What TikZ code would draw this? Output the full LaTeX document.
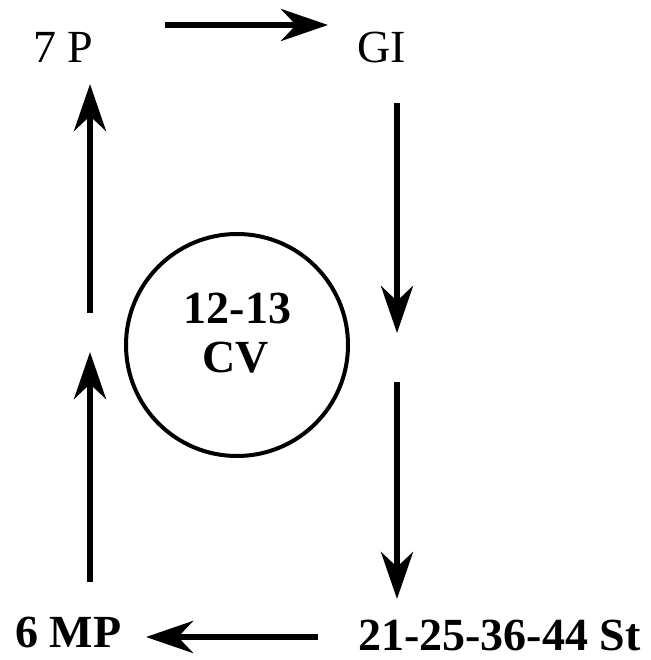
\documentclass[tikz,border=0pt]{standalone}
\usepackage{fontspec}
\setmainfont{Liberation Serif}
\usetikzlibrary{arrows.meta}
\begin{document}
\begin{tikzpicture}[x=1pt,y=-1pt,
  lbl/.style={inner sep=0pt,font=\fontsize{46}{49}\selectfont},
  blbl/.style={inner sep=0pt,font=\fontsize{46}{49}\selectfont\bfseries},
  flow/.style={line width=6pt,-{Stealth[length=47pt,width=32pt,inset=15pt]}}]
\useasboundingbox (0,0) rectangle (650,660);
% labels
\node[lbl,anchor=base west] (p7) at (33,63) {7 P};
\node[lbl,anchor=base west] (gi) at (357,63) {GI};
\node[blbl,anchor=base west] (mp6) at (15,647) {6 MP};
\node[blbl,anchor=base west] (st) at (358,650) {21-25-36-44 St};
% circle
\node[draw,circle,line width=4pt,minimum size=222pt,inner sep=0pt] (cv) at (237,345) {};
\node[blbl,anchor=base] (cvnum) at (237.5,323) {12-13};
\node[blbl,anchor=base] (cvname) at (236,372) {CV};
% arrow end points
\coordinate (a1s) at (165,25);  \coordinate (a1e) at (328,25);
\coordinate (a2s) at (397,103); \coordinate (a2e) at (397,333);
\coordinate (a3s) at (397,382); \coordinate (a3e) at (397,599);
\coordinate (a4s) at (318,637); \coordinate (a4e) at (146,637);
\coordinate (a5s) at (90,582);  \coordinate (a5e) at (90,352);
\coordinate (a6s) at (90,313);  \coordinate (a6e) at (90,84);
\draw[flow] (a1s) -- (a1e);
\draw[flow] (a2s) -- (a2e);
\draw[flow] (a3s) -- (a3e);
\draw[flow] (a4s) -- (a4e);
\draw[flow] (a5s) -- (a5e);
\draw[flow] (a6s) -- (a6e);
\end{tikzpicture}
\end{document}
